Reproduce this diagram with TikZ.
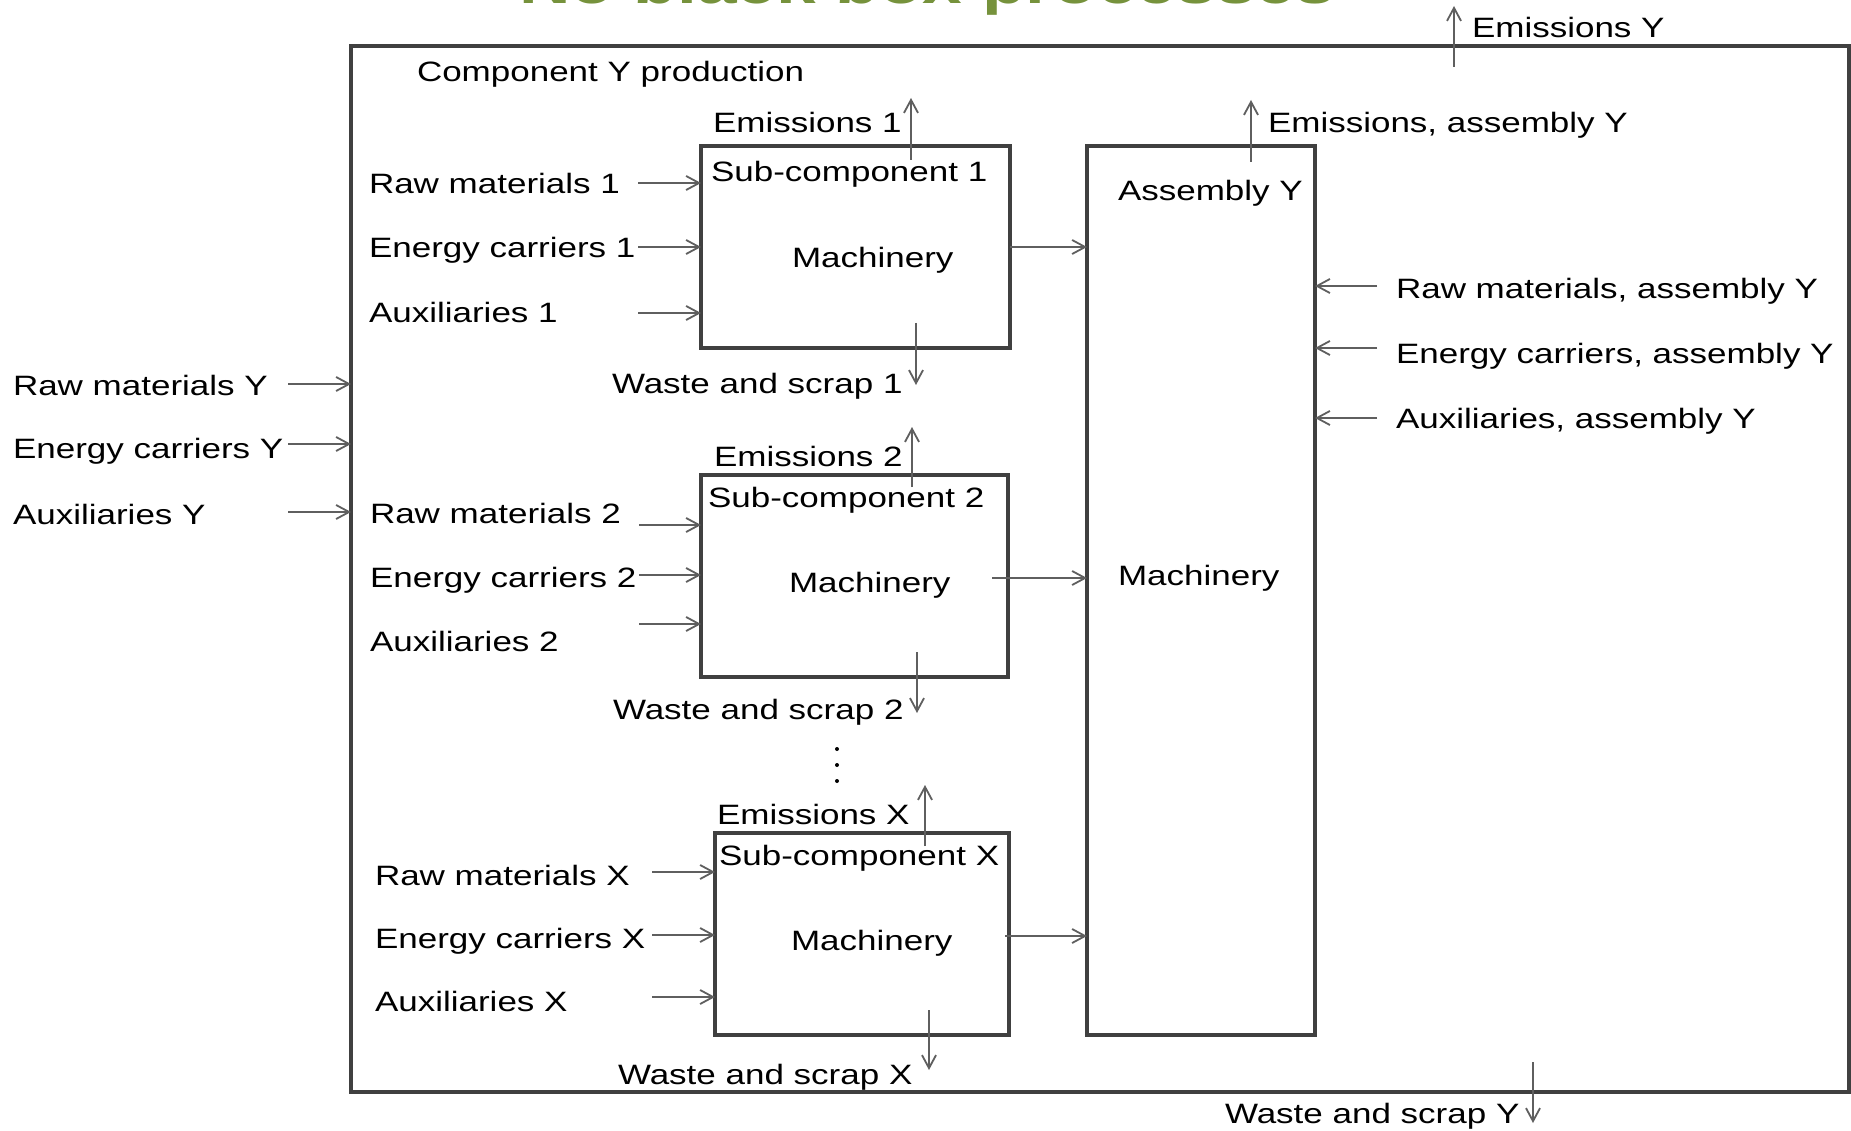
\documentclass[tikz,border=0pt]{standalone}
\usepackage{fontspec}
\setmainfont{Liberation Sans}[FakeStretch=1.25]
\usetikzlibrary{arrows.meta}
\definecolor{boxline}{HTML}{404040}
\definecolor{arrowline}{HTML}{5F5F5F}
\definecolor{titlegreen}{RGB}{118,146,60}
\begin{document}
\begin{tikzpicture}[x=1pt,y=-1pt,
  lbl/.style={anchor=base west,inner sep=0pt,outer sep=0pt,font=\fontsize{28}{32}\selectfont},
  box/.style={draw=boxline,line width=3.5pt,fill=white,inner sep=0pt,outer sep=0pt},
  flow/.style={draw=arrowline,line width=1.8pt,-{Straight Barb[length=13pt,width=14pt,line width=1.8pt]}}]
\useasboundingbox (0,0) rectangle (1851,1131);
\clip (0,0) rectangle (1851,1131);

% heading, mostly above the page
\node[anchor=base west,inner sep=0pt,text=titlegreen,
      font=\fontsize{57}{60}\selectfont\bfseries] (title) at (519,4) {No black box processes};

% boxes
\node[box,minimum width=1498pt,minimum height=1046pt] (outer) at (1100,569) {};
\node[box,minimum width=309pt,minimum height=202pt] (sub1) at (855.5,247) {};
\node[box,minimum width=307pt,minimum height=202pt] (sub2) at (854.5,576) {};
\node[box,minimum width=294pt,minimum height=202pt] (subX) at (862,934) {};
\node[box,minimum width=228pt,minimum height=889pt] (asm) at (1201,590.5) {};

% texts of the whole production
\node[lbl] (prod) at (417,82) {Component Y production};
\node[lbl] (emY) at (1472,38) {Emissions Y};
\node[lbl] (rawY) at (13,395) {Raw materials Y};
\node[lbl] (enY) at (13,458) {Energy carriers Y};
\node[lbl] (auxY) at (13,524) {Auxiliaries Y};
\node[lbl] (wasteY) at (1225,1123) {Waste and scrap Y};

% sub-component 1
\node[lbl] (em1) at (713,133) {Emissions 1};
\node[lbl] (name1) at (711,182) {Sub-component 1};
\node[lbl] (mach1) at (792,268) {Machinery};
\node[lbl] (raw1) at (369,194) {Raw materials 1};
\node[lbl] (en1) at (369,258) {Energy carriers 1};
\node[lbl] (aux1) at (369,323) {Auxiliaries 1};
\node[lbl] (waste1) at (612,393) {Waste and scrap 1};

% sub-component 2
\node[lbl] (em2) at (714,466) {Emissions 2};
\node[lbl] (name2) at (708,507) {Sub-component 2};
\node[lbl] (mach2) at (789,592) {Machinery};
\node[lbl] (raw2) at (370,523) {Raw materials 2};
\node[lbl] (en2) at (370,587) {Energy carriers 2};
\node[lbl] (aux2) at (370,651) {Auxiliaries 2};
\node[lbl] (waste2) at (613,719) {Waste and scrap 2};

% continuation dots
\fill (837,749) circle (2);
\fill (837,765) circle (2);
\fill (837,781) circle (2);

% sub-component X
\node[lbl] (emX) at (717,824) {Emissions X};
\node[lbl] (nameX) at (719,865) {Sub-component X};
\node[lbl] (machX) at (791,950) {Machinery};
\node[lbl] (rawX) at (375,885) {Raw materials X};
\node[lbl] (enX) at (375,948) {Energy carriers X};
\node[lbl] (auxX) at (375,1011) {Auxiliaries X};
\node[lbl] (wasteX) at (618,1084) {Waste and scrap X};

% assembly
\node[lbl] (asmname) at (1118,201) {Assembly Y};
\node[lbl] (asmmach) at (1118,585) {Machinery};
\node[lbl] (emA) at (1268,133) {Emissions, assembly Y};
\node[lbl] (rawA) at (1396,299) {Raw materials, assembly Y};
\node[lbl] (enA) at (1396,363) {Energy carriers, assembly Y};
\node[lbl] (auxA) at (1396,428) {Auxiliaries, assembly Y};

% arrow end points
\coordinate (inRawY) at (288,384);
\coordinate (inEnY) at (288,444);
\coordinate (inAuxY) at (288,512);
\coordinate (emYs) at (1454,67);  \coordinate (emYe) at (1454,6);
\coordinate (wYs) at (1533,1062); \coordinate (wYe) at (1533,1123);

\coordinate (in1a) at (638,183); \coordinate (in1b) at (638,247); \coordinate (in1c) at (638,313);
\coordinate (e1s) at (911,160);  \coordinate (e1e) at (911,98);
\coordinate (w1s) at (916,323);  \coordinate (w1e) at (916,385);
\coordinate (o1) at (1010,247);

\coordinate (in2a) at (639,525); \coordinate (in2b) at (639,575); \coordinate (in2c) at (639,624);
\coordinate (e2s) at (912,487);  \coordinate (e2e) at (912,427);
\coordinate (w2s) at (917,652);  \coordinate (w2e) at (917,713);
\coordinate (o2) at (992,578);

\coordinate (inXa) at (652,872); \coordinate (inXb) at (652,935); \coordinate (inXc) at (652,997);
\coordinate (eXs) at (925,846);  \coordinate (eXe) at (925,785);
\coordinate (wXs) at (929,1010); \coordinate (wXe) at (929,1070);
\coordinate (oX) at (1005,936);

\coordinate (eAs) at (1251,162); \coordinate (eAe) at (1251,100);
\coordinate (inAa) at (1377,286); \coordinate (inAb) at (1377,348); \coordinate (inAc) at (1377,418);

% flows into and out of the whole production
\draw[flow] (inRawY) -- (inRawY -| outer.west);
\draw[flow] (inEnY) -- (inEnY -| outer.west);
\draw[flow] (inAuxY) -- (inAuxY -| outer.west);
\draw[flow] (emYs) -- (emYe);
\draw[flow] (wYs) -- (wYe);

% flows of sub-component 1
\draw[flow] (in1a) -- (in1a -| sub1.west);
\draw[flow] (in1b) -- (in1b -| sub1.west);
\draw[flow] (in1c) -- (in1c -| sub1.west);
\draw[flow] (e1s) -- (e1e);
\draw[flow] (w1s) -- (w1e);
\draw[flow] (o1) -- (o1 -| asm.west);

% flows of sub-component 2
\draw[flow] (in2a) -- (in2a -| sub2.west);
\draw[flow] (in2b) -- (in2b -| sub2.west);
\draw[flow] (in2c) -- (in2c -| sub2.west);
\draw[flow] (e2s) -- (e2e);
\draw[flow] (w2s) -- (w2e);
\draw[flow] (o2) -- (o2 -| asm.west);

% flows of sub-component X
\draw[flow] (inXa) -- (inXa -| subX.west);
\draw[flow] (inXb) -- (inXb -| subX.west);
\draw[flow] (inXc) -- (inXc -| subX.west);
\draw[flow] (eXs) -- (eXe);
\draw[flow] (wXs) -- (wXe);
\draw[flow] (oX) -- (oX -| asm.west);

% flows of the assembly
\draw[flow] (eAs) -- (eAe);
\draw[flow] (inAa) -- (inAa -| asm.east);
\draw[flow] (inAb) -- (inAb -| asm.east);
\draw[flow] (inAc) -- (inAc -| asm.east);
\end{tikzpicture}
\end{document}
